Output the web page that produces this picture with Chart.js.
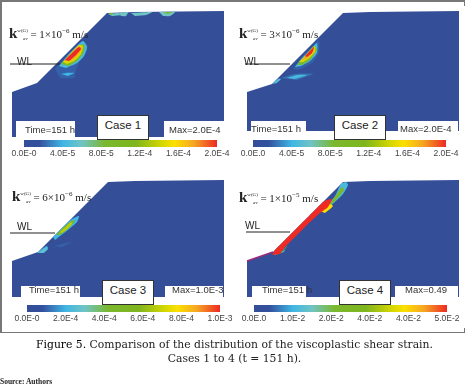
<!DOCTYPE html>
<html>
<head>
<meta charset="utf-8">
<script src="https://cdn.jsdelivr.net/npm/chart.js@4/dist/chart.umd.min.js"></script>
<style>
    html, body { margin: 0; padding: 0; background: #fff; overflow: hidden; }
    #page { position: relative; width: 469px; height: 391px; overflow: hidden; font-family: "Liberation Sans", sans-serif; }
    #page > * { position: absolute; }
    canvas.mesh { filter: blur(0.5px); }
    canvas.blobs { filter: blur(0.7px); }
    canvas.bar { filter: blur(0.3px); }
    .box { background: #fff; }
    .stamp { font-size: 9.5px; color: #333; white-space: nowrap; filter: blur(0.2px); }
    .case { background: #fff; border: 1px solid #333; box-sizing: border-box; font-size: 11.5px; color: #222; text-align: center; }
    .wl { font-size: 10px; color: #222; }
    .perm { font-family: "Liberation Serif", serif; font-size: 11px; color: #222; white-space: nowrap; }
    .perm b { font-size: 15px; }
    .perm sup { font-size: 5px; vertical-align: 6px; line-height: 0; }
    .perm sub { font-size: 5px; vertical-align: -2px; line-height: 0; font-style: italic; margin-left: -5px; }
    .frame { background: #777; }
    .caption { left: 0; width: 469px; text-align: center; font-family: "DejaVu Serif", serif; font-size: 10.8px; color: #222; white-space: nowrap; }
    .caption b { font-weight: normal; color: #000; }
    .source { left: 0; font-family: "Liberation Serif", serif; font-size: 7.5px; font-weight: bold; color: #222; }
</style>
</head>
<body>
<div id="page"></div>
<script>
// slope sections (panel coordinates)
const slopeCase1 = [[12,92],[37,83],[107,13],[135,12],[224,11],[224,137],[12,137]];
const slopeCase2 = [[12,92],[37,84],[108,13],[135,12],[224,11],[224,131],[12,131]];
const slopeCase3 = [[12,91],[38,82],[108,12],[135,11],[224,10],[224,127],[12,127]];
const slopeCase4 = [[12,91],[38,82],[108,12],[135,11],[224,10],[224,127],[12,127]];

// contour patches as [level 0..1, outline]
const blobsCase1 = [
    [0.1, [[55,69],[64,60],[72,52],[82,41],[87,44],[87,51],[80,61],[76,70],[74,78],[60,78]]],
    [0.22, [[59,66],[68,55],[76,47],[83,41],[87,47],[84,56],[77,63],[66,68]]],
    [0.45, [[61,64],[70,54],[78,46],[84,44],[84,52],[78,60],[69,66]]],
    [0.72, [[63,62],[71,53],[79,45],[83,46],[81,54],[74,61],[67,64]]],
    [0.88, [[64,61],[72,53],[79,46],[82,48],[78,55],[71,61]]],
    [1, [[65,60],[72,53],[79,47],[81,49],[75,56],[69,61]]],
    [0.2, [[61,74],[66,73],[74,73],[68,76]]],
    [0.3, [[108,14],[118,13],[121,15],[112,16]]],
    [0.5, [[108,13],[113,13],[112,15]]],
    [0.3, [[119,13],[128,12],[126,16],[121,16]]],
    [0.3, [[131,13],[152,12],[146,15],[135,16]]],
    [0.3, [[159,12],[175,12],[170,16],[163,16]]],
    [0.5, [[163,12],[172,12],[168,14]]]
];
const blobsCase2 = [
    [0.1, [[58,69],[66,58],[74,50],[84,40],[84,52],[78,62],[68,68],[62,70]]],
    [0.22, [[60,67],[68,57],[76,49],[82,43],[82,53],[75,61],[66,66]]],
    [0.45, [[62,65],[70,56],[79,46],[82,50],[75,60],[67,65]]],
    [0.72, [[64,62],[72,54],[80,46],[80,52],[73,59],[68,62]]],
    [0.88, [[67,60],[74,52],[79,47],[79,51],[73,58]]],
    [1, [[70,56],[75,51],[79,47],[77,53],[72,57]]],
    [0.12, [[46,78],[60,74],[78,74],[62,80]]],
    [0.22, [[52,78],[62,75],[72,75],[60,79]]],
    [0.24, [[37,84],[43,79],[46,79],[42,83]]]
];
const blobsCase3 = [
    [0.2, [[53,67],[62,58],[72,49],[79,46],[77,52],[68,60],[60,66],[55,70]]],
    [0.48, [[56,65],[65,56],[73,50],[75,51],[68,59],[60,65]]],
    [0.68, [[60,62],[66,57],[71,52],[72,54],[66,60],[61,63]]],
    [0.22, [[37,83],[42,79],[47,76],[48,79],[44,83]]],
    [0.3, [[39,83],[43,80],[46,78],[46,80],[43,82]]],
    [0.1, [[54,76],[66,73],[72,72],[62,77]]]
];
const blobsCase4 = [
    [0.22, [[38,85],[50,80],[55,73],[49,82]]],
    [0.22, [[92,36],[100,26],[106,14],[111,12],[113,15],[108,24],[100,32],[93,38]]],
    [0.5, [[38,85],[46,83],[53,75],[47,81]]],
    [0.5, [[94,35],[102,24],[107,17],[109,20],[101,30],[95,36]]],
    [0.78, [[85,41],[94,34],[98,36],[90,43]]],
    [1, [[37,85],[40,80],[60,60],[75,45],[88,32],[92,30],[97,29],[93,37],[85,43],[72,55],[60,67],[50,77],[45,84]]]
];

const waterCase1 = [[10,64],[60,64]];
const waterCase2 = [[10,64],[55,64]];
const waterCase3 = [[10,63],[55,63]];
const waterCase4 = [[11,62],[55,62]];
const toeCase4 = [[12,91],[38,82]];

// colour bar ticks
const ticksCase1 = [0, 4e-5, 8e-5, 1.2e-4, 1.6e-4, 2e-4];
const labelsCase1 = ['0.0E-0', '4.0E-5', '8.0E-5', '1.2E-4', '1.6E-4', '2.0E-4'];
const ticksCase2 = [0, 4e-5, 8e-5, 1.2e-4, 1.6e-4, 2e-4];
const labelsCase2 = ['0.0E.0', '4.0E-5', '8.0E-5', '1.2E-4', '1.6E-4', '2.0E-4'];
const ticksCase3 = [0, 2e-4, 4e-4, 6e-4, 8e-4, 1e-3];
const labelsCase3 = ['0.0E-0', '2.0E-4', '4.0E-4', '6.0E-4', '8.0E-4', '1.0E-3'];
const ticksCase4 = [0, 1e-2, 2e-2, 3e-2, 4e-2, 5e-2];
const labelsCase4 = ['0.0E.0', '1.0E-2', '2.0E-2', '4.0E-2', '4.0E-2', '5.0E-2'];

const NAVY = '#344e98';
const colorStops = [
    [0, NAVY], [0.08, '#33509e'], [0.2, '#3fb6e4'], [0.3, '#70c4c4'], [0.42, '#7ab82e'],
    [0.58, '#7fb61e'], [0.72, '#d8d800'], [0.78, '#fbe000'], [0.88, '#f6a623'], [1, '#ee2a24']
];

function hexRgb(hex) {
    return [1, 3, 5].map(i => parseInt(hex.slice(i, i + 2), 16));
}

function levelColor(level) {
    const hi = colorStops.findIndex(s => s[0] >= level);
    if (hi <= 0) return colorStops[Math.max(hi, 0)][1];
    const a = colorStops[hi - 1];
    const b = colorStops[hi];
    const t = (level - a[0]) / (b[0] - a[0]);
    const ca = hexRgb(a[1]);
    const cb = hexRgb(b[1]);
    return `rgb(${ca.map((v, i) => Math.round(v + (cb[i] - v) * t)).join(',')})`;
}

const page = document.getElementById('page');

function addEl(tag, cls, x, y, w, h, html) {
    const el = document.createElement(tag);
    el.className = cls;
    el.style.left = x + 'px';
    el.style.top = y + 'px';
    if (w) el.style.width = w + 'px';
    if (h) el.style.height = h + 'px';
    if (html) el.innerHTML = html;
    page.appendChild(el);
    return el;
}

function toPoints(list) {
    return list.map(p => ({ x: p[0], y: p[1] }));
}

// overlay chart with the panel's pixel-sized data space
function drawLayer(panel, cls, datasets) {
    const canvas = addEl('canvas', cls, panel.x, panel.y);
    canvas.width = 235;
    canvas.height = 170;
    new Chart(canvas, {
        type: 'scatter',
        data: { datasets: datasets.slice().reverse() },  // first dataset is drawn last
        options: {
            responsive: false,
            animation: false,
            layout: { padding: 0 },
            elements: { point: { radius: 0 } },
            plugins: { legend: { display: false }, tooltip: { enabled: false } },
            datasets: { scatter: { showLine: true } },
            scales: {
                x: { type: 'linear', display: false, min: 0, max: 235 },
                y: { type: 'linear', display: false, min: 0, max: 170, reverse: true }
            }
        }
    });
}

function drawMesh(panel) {
    const base = [{ data: toPoints(panel.slope), backgroundColor: NAVY, borderWidth: 0, fill: 'shape' }];
    if (panel.toe) base.push({ data: toPoints(panel.toe), borderColor: '#9a2a78', borderWidth: 1.5, fill: false });
    drawLayer(panel, 'mesh', base);
    drawLayer(panel, 'blobs', panel.blobs.map(b => ({
        data: toPoints(b[1]), backgroundColor: levelColor(b[0]), borderWidth: 0, fill: 'shape', tension: 0.2
    })));
}

function drawColorBar(panel) {
    const pad = 24;
    const canvas = addEl('canvas', 'bar', panel.x + panel.barX - pad, panel.y + panel.barY);
    canvas.width = panel.barW + pad * 2;
    canvas.height = 24;
    const last = panel.ticks[panel.ticks.length - 1];
    new Chart(canvas, {
        type: 'bar',
        data: {
            labels: ['strain'],
            datasets: [{
                data: [last],
                barPercentage: 1,
                categoryPercentage: 1,
                backgroundColor: ctx => {
                    const area = ctx.chart.chartArea;
                    if (!area) return NAVY;
                    const grad = ctx.chart.ctx.createLinearGradient(area.left, 0, area.right, 0);
                    colorStops.forEach(s => grad.addColorStop(s[0], s[1]));
                    return grad;
                }
            }]
        },
        options: {
            indexAxis: 'y',
            responsive: false,
            animation: false,
            layout: { padding: { left: pad, right: pad, top: 0, bottom: 0 } },
            plugins: { legend: { display: false }, tooltip: { enabled: false } },
            scales: {
                y: { display: false },
                x: {
                    type: 'linear',
                    min: 0,
                    max: last,
                    grid: { display: false, drawTicks: false },
                    border: { display: false },
                    afterBuildTicks: axis => { axis.ticks = panel.ticks.map(v => ({ value: v })); },
                    afterFit: axis => { axis.paddingLeft = 0; axis.paddingRight = 0; axis.height = 17; },
                    ticks: {
                        autoSkip: false,
                        maxRotation: 0,
                        padding: 2,
                        color: '#444',
                        font: { family: 'Liberation Sans', size: 8.5 },
                        callback: (v, i) => panel.labels[i]
                    }
                }
            }
        }
    });
}

function drawLabels(panel) {
    panel.whiteBoxes.forEach(b => addEl('div', 'box', panel.x + b[0], panel.y + b[1], b[2], b[3]));
    addEl('div', 'stamp', panel.x + panel.timeX, panel.y + panel.stampY, 0, 0, 'Time=151 h');
    addEl('div', 'stamp', panel.x + panel.maxX, panel.y + panel.stampY, 0, 0, panel.maxText);
    const c = panel.caseBox;
    const box = addEl('div', 'case', panel.x + c[0], panel.y + c[1], c[2], c[3], panel.name);
    box.style.lineHeight = (c[3] - 6) + 'px';
    addEl('div', 'wl', panel.x + panel.wlX, panel.y + panel.wlY, 0, 0, 'WL');
    addEl('div', 'perm', panel.x + panel.permX, panel.y + panel.permY, 0, 0,
        '<b>k</b><sup>w(G)</sup><sub>av</sub> = ' + panel.perm + '&times;10<sup style="font-size:7px;vertical-align:5px">&minus;' + panel.permExp + '</sup> m/s');
}

function drawWater(panel) {
    drawLayer(panel, '', [{ data: toPoints(panel.water), borderColor: '#222', borderWidth: 1, fill: false }]);
}

const panels = [
    { name: 'Case 1', x: 0, y: 0, slope: slopeCase1, blobs: blobsCase1, water: waterCase1, ticks: ticksCase1, labels: labelsCase1,
      barX: 24, barY: 140, barW: 193, whiteBoxes: [[16,121,59,17],[164,121,60,17]], caseBox: [97,115,52,25],
      timeX: 25, maxX: 169, stampY: 124, maxText: 'Max=2.0E-4', wlX: 17, wlY: 56, permX: 9, permY: 25, perm: '1', permExp: 6 },
    { name: 'Case 2', x: 235, y: 0, slope: slopeCase2, blobs: blobsCase2, water: waterCase2, ticks: ticksCase2, labels: labelsCase2,
      barX: 18, barY: 140, barW: 193, whiteBoxes: [[16,121,55,12],[163,121,60,12]], caseBox: [99,115,52,25],
      timeX: 16, maxX: 165, stampY: 123, maxText: 'Max=2.0E-4', wlX: 9, wlY: 56, permX: 4, permY: 25, perm: '3', permExp: 6 },
    { name: 'Case 3', x: 0, y: 170, slope: slopeCase3, blobs: blobsCase3, water: waterCase3, ticks: ticksCase3, labels: labelsCase3,
      barX: 27, barY: 135, barW: 193, whiteBoxes: [[21,116,59,12],[165,116,58,12]], caseBox: [102,110,52,25],
      timeX: 29, maxX: 172, stampY: 114, maxText: 'Max=1.0E-3', wlX: 17, wlY: 51, permX: 12, permY: 18, perm: '6', permExp: 6 },
    { name: 'Case 4', x: 235, y: 170, slope: slopeCase4, blobs: blobsCase4, water: waterCase4, toe: toeCase4, ticks: ticksCase4, labels: labelsCase4,
      barX: 19, barY: 135, barW: 193, whiteBoxes: [[17,116,54,12],[160,116,63,12]], caseBox: [104,110,52,25],
      timeX: 27, maxX: 170, stampY: 114, maxText: 'Max=0.49', wlX: 10, wlY: 50, permX: 4, permY: 19, perm: '1', permExp: 5 }
];

panels.forEach(drawMesh);
panels.forEach(drawColorBar);
panels.forEach(drawLabels);
panels.forEach(drawWater);

// thin grey frame round the four panels
addEl('div', 'frame', 0, 0, 465, 2);
addEl('div', 'frame', 0, 0, 2, 332);
addEl('div', 'frame', 0, 332, 465, 1);
addEl('div', 'frame', 464, 0, 1, 6);
addEl('div', 'frame', 464, 328, 1, 5);

addEl('div', 'caption', 0, 338, 0, 0, '<b>Figure 5.</b> Comparison of the distribution of the viscoplastic shear strain.').style.width = '469px';
addEl('div', 'caption', 0, 352, 0, 0, 'Cases 1 to 4 (t = 151 h).').style.width = '469px';
addEl('div', 'source', 0, 377, 0, 0, 'Source: Authors').style.whiteSpace = 'nowrap';
</script>
</body>
</html>
